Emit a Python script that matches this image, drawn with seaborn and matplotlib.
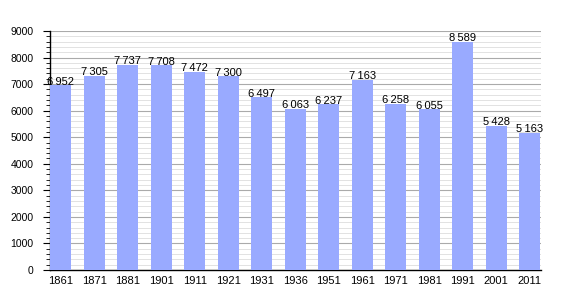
import matplotlib
matplotlib.use("Agg")
import matplotlib.pyplot as plt
from matplotlib.ticker import MultipleLocator
import seaborn as sns
import pandas as pd

years = ["1861", "1871", "1881", "1901", "1911", "1921", "1931", "1936",
         "1951", "1961", "1971", "1981", "1991", "2001", "2011"]
population = [6952, 7305, 7737, 7708, 7472, 7300, 6497, 6063,
              6237, 7163, 6258, 6055, 8589, 5428, 5163]

df = pd.DataFrame({"year": years, "pop": population})

sns.set_style("white")
plt.rcParams['font.family'] = ['Liberation Sans', 'DejaVu Sans']
plt.rcParams['text.color'] = 'black'
plt.rcParams['xtick.color'] = 'black'
plt.rcParams['ytick.color'] = 'black'

fig = plt.figure(figsize=(5.7, 3.0), dpi=100)
ax = fig.add_axes([50/570, 30/300, 491/570, 239/300])

sns.barplot(data=df, x="year", y="pop", color="#99aaff", saturation=1,
            width=0.63, ax=ax, zorder=3, linewidth=0, edgecolor="none")

ax.set_ylim(0, 9000)
ax.set_xlim(-0.32, 14.34)
ax.yaxis.set_major_locator(MultipleLocator(1000))
ax.yaxis.set_minor_locator(MultipleLocator(200))
ax.grid(which="major", axis="y", color="#aaaaaa", linewidth=0.8, zorder=0)
ax.grid(which="minor", axis="y", color="#dddddd", linewidth=0.6, zorder=0)
ax.set_axisbelow(True)

for s in ["top", "right"]:
    ax.spines[s].set_visible(False)
ax.spines["left"].set_color("black")
ax.spines["bottom"].set_color("black")
ax.spines["left"].set_linewidth(1)
ax.spines["bottom"].set_linewidth(1)

ax.tick_params(axis="y", which="major", left=True, length=5, width=0.8,
               labelsize=7.5, pad=7, direction="out", labelcolor="black")
ax.tick_params(axis="y", which="minor", left=True, length=3, width=0.6, direction="out")
ax.tick_params(axis="x", which="both", bottom=False, labelsize=8, pad=1,
               labelcolor="black")
ax.set_xlabel("")
ax.set_ylabel("")

for i, v in enumerate(population):
    label = f"{v:,}".replace(",", "\u2009")
    ax.text(i, v + 20, label, ha="center", va="baseline", fontsize=8,
            color="black", zorder=4)

fig.savefig("out.png", dpi=100)
